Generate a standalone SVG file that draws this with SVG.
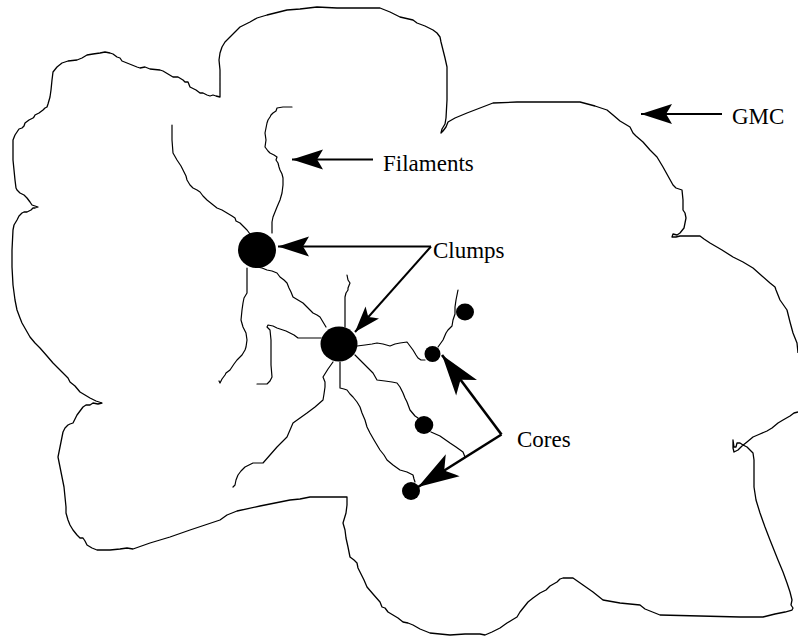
<svg xmlns="http://www.w3.org/2000/svg" width="798" height="638" viewBox="0 0 798 638">
<style>
.outline{fill:none;stroke:#000;stroke-width:1.3;stroke-linejoin:round}
.fil{fill:none;stroke:#000;stroke-width:1.2;stroke-linejoin:round;stroke-linecap:round}
.blob{fill:#000;stroke:none}
.arr{fill:none;stroke:#000;stroke-width:2}
.arrC{fill:none;stroke:#000;stroke-width:2.6}
.lbl{font-family:'Liberation Serif','Times New Roman',serif;font-size:23px;fill:#000}
</style>
<defs>
<marker id="headS" viewBox="-32 -11 33 22" refX="0" refY="0" markerWidth="33" markerHeight="22" orient="auto" markerUnits="userSpaceOnUse">
<path d="M0,0 L-31,-10 Q-27,-3 -25,0 Q-27,3 -31,10 Z" fill="#000"/>
</marker>
<marker id="headM" viewBox="-27 -10 28 20" refX="0" refY="0" markerWidth="28" markerHeight="20" orient="auto" markerUnits="userSpaceOnUse">
<path d="M0,0 L-26,-9 Q-22,-3 -20,0 Q-22,3 -26,9 Z" fill="#000"/>
</marker>
<marker id="headC" viewBox="-43 -15 44 30" refX="0" refY="0" markerWidth="44" markerHeight="30" orient="auto" markerUnits="userSpaceOnUse">
<path d="M0,0 L-41,-13 Q-34,-4 -31,0 Q-34,4 -41,13 Z" fill="#000"/>
</marker>
</defs>

<g id="gmc-outline">
<path class="outline" d="M798,353 L797,343 L793,333 L790,322 L787,310 L780,300 L776,290 L775,287 L770,283 L762,276 L753,268 L743,262 L733,257 L722,250 L710,243 L704,239 L700,236 L690,236 L680,236 L676,237 L672,237 L673,234 L677,235 L680,233 L684,228 L685,223 L686,218 L685,213 L683,210 L683,200 L682,190 L676,188 L673,185 L668,176 L663,167 L657,157 L650,150 L643,142 L636,136 L633,133 L630,127 L620,121 L613,115 L607,110 L595,106 L580,102 L550,102 L517,102 L493,103 L480,108 L467,113 L455,118 L448,122 L446,127 L443,131 L441,133 L442,129 L445,124 L446,118 L447,100 L447,80 L447,67 L445,58 L443,50 L441,42 L440,37 L437,33 L433,30 L425,26 L417,23 L413,20 L400,17 L390,12 L380,8 L360,8 L337,8 L317,7 L300,9 L287,10 L275,13 L267,15 L257,18 L250,22 L240,27 L235,32 L230,37 L225,42 L222,47 L220,53 L219,60 L220,70 L220,80 L220,90 L220,97 L216,96 L213,95 L210,96 L207,95 L203,93 L200,93 L196,90 L190,87 L188,82 L185,82 L183,80 L178,77 L173,77 L168,74 L163,71 L160,70 L150,69 L145,67 L140,68 L137,67 L132,65 L127,63 L122,61 L120,58 L117,57 L113,54 L110,53 L105,52 L100,53 L93,54 L87,55 L82,58 L77,60 L68,61 L62,63 L57,67 L53,72 L52,80 L51,90 L50,97 L48,104 L47,107 L45,108 L43,110 L39,113 L35,115 L34,117 L33,118 L29,120 L25,123 L24,126 L22,128 L19,129 L17,132 L15,135 L13,140 L13,150 L13,160 L14,170 L15,180 L16,188 L17,190 L20,193 L24,195 L27,198 L30,202 L32,205 L35,206 L38,207 L35,208 L33,208 L31,210 L27,212 L24,212 L22,213 L19,216 L17,220 L14,225 L13,230 L12,250 L12,267 L13,285 L15,300 L17,310 L20,318 L22,323 L26,330 L30,337 L35,343 L40,348 L47,356 L53,363 L58,368 L62,372 L68,378 L70,382 L75,386 L80,392 L85,395 L90,398 L96,401 L102,403 L98,404 L93,403 L90,405 L86,405 L83,407 L80,411 L77,415 L75,419 L73,423 L70,424 L68,425 L65,428 L63,432 L62,437 L61,442 L60,447 L59,452 L58,457 L60,467 L61,472 L62,477 L64,487 L65,497 L66,507 L66,513 L68,520 L70,525 L73,530 L77,535 L80,538 L83,538 L85,541 L87,545 L92,548 L97,550 L110,550 L120,549 L127,548 L133,549 L150,543 L170,537 L190,530 L205,525 L220,520 L227,515 L237,511 L260,506 L275,503 L290,500 L300,499 L310,497 L330,497 L347,497 L347,505 L346,513 L343,523 L345,530 L346,538 L348,547 L350,557 L354,560 L357,563 L358,568 L360,572 L364,580 L367,587 L373,594 L380,602 L382,607 L385,608 L388,612 L393,615 L398,618 L403,622 L408,623 L413,625 L420,629 L430,633 L440,634 L450,635 L465,634 L480,634 L485,635 L492,632 L500,628 L507,623 L512,620 L517,617 L520,612 L524,607 L528,602 L533,598 L540,593 L546,590 L550,586 L557,582 L560,579 L563,578 L568,578 L573,578 L583,585 L593,592 L603,600 L620,603 L640,605 L645,609 L650,611 L660,615 L700,616 L740,617 L763,617 L775,614 L785,612 L792,610 L793,608 L791,605 L792,600 L790,592 L787,583 L783,572 L778,560 L774,550 L770,540 L765,527 L760,513 L756,500 L754,487 L754,470 L754,460 L753,453 L750,450 L747,447 L743,445 L740,443 L737,443 L736,447 L734,447 L733,440 L733,448 L734,452 L738,450 L742,446 L747,442 L753,437 L760,434 L767,431 L772,428 L778,423 L783,420 L790,416 L794,413 L798,412"/>
</g>

<g id="filaments">
<path class="fil" d="M172,125 L172,140 L173,153 L177,160 L181,166 L183,170 L186,176 L187,180 L190,185 L193,188 L197,190 L200,192 L203,196 L207,200 L212,204 L217,208 L222,210 L227,213 L232,216 L235,218 L236,221 L240,223 L244,227 L247,230 L250,234"/>
<path class="fil" d="M292,107 L283,107 L277,108 L276,111 L273,113 L271,115 L270,117 L268,120 L267,123 L266,128 L265,133 L266,140 L265,147 L268,151 L270,153 L274,155 L277,157 L276,160 L278,163 L279,167 L280,170 L282,174 L283,178 L283,185 L282,193 L280,200 L277,207 L275,212 L273,217 L272,222 L272,227 L272,233"/>
<path class="fil" d="M247,268 L247,280 L247,293 L244,298 L243,303 L242,310 L241,320 L243,327 L246,333 L247,340 L246,347 L245,350 L242,355 L237,360 L234,364 L230,370 L226,373 L225,375 L222,379 L220,383 L219,381"/>
<path class="fil" d="M257,267 L262,268 L267,270 L272,271 L277,273 L280,277 L284,280 L287,283 L289,288 L291,292 L293,297 L298,300 L303,303 L307,307 L310,310 L313,313 L317,315 L320,317 L323,322 L326,327"/>
<path class="fil" d="M321,338 L310,338 L298,338 L294,335 L290,333 L286,331 L283,330 L280,329 L277,328 L273,326 L268,325 L267,327 L270,330 L271,340 L271,353 L271,365 L272,377 L270,381 L267,384 L262,384 L257,384"/>
<path class="fil" d="M347,275 L348,280 L350,283 L348,288 L348,290 L346,293 L345,297 L345,310 L345,327"/>
<path class="fil" d="M357,346 L365,345 L372,344 L377,343 L383,344 L390,346 L395,344 L400,343 L407,342 L410,346 L413,350 L416,355 L418,358 L421,360 L425,360"/>
<path class="fil" d="M438,347 L443,340 L446,333 L448,330 L452,326 L453,320 L455,314 L455,307 L456,300 L457,295 L458,290"/>
<path class="fil" d="M355,355 L360,360 L363,363 L368,368 L373,373 L377,380 L385,381 L392,382 L397,383 L400,387 L403,393 L405,398 L407,402 L410,410 L415,416 L418,418"/>
<path class="fil" d="M431,432 L440,436 L450,443 L456,447 L463,452 L465,457"/>
<path class="fil" d="M340,362 L340,375 L340,388 L344,389 L347,390 L350,394 L353,397 L357,402 L360,407 L362,413 L365,420 L367,427 L370,433 L374,440 L380,450 L384,455 L387,460 L393,465 L400,470 L407,472 L413,475 L414,479 L415,482"/>
<path class="fil" d="M333,362 L328,369 L323,377 L325,382 L325,387 L324,394 L323,400 L315,407 L307,413 L300,418 L293,423 L290,430 L287,437 L282,442 L277,447 L270,455 L263,463 L258,463 L253,463 L249,465 L245,467 L241,471 L238,475 L236,480 L235,485 L233,487"/>
</g>

<g id="clump1"><ellipse class="blob" cx="257" cy="250" rx="19" ry="18"/></g>
<g id="clump2"><ellipse class="blob" cx="339" cy="344" rx="18.5" ry="17.5"/></g>
<g id="core1"><ellipse class="blob" cx="465" cy="312" rx="9" ry="8.5"/></g>
<g id="core2"><ellipse class="blob" cx="432.5" cy="354" rx="8" ry="8"/></g>
<g id="core3"><ellipse class="blob" cx="424" cy="425" rx="9.3" ry="9"/></g>
<g id="core4"><ellipse class="blob" cx="411" cy="491" rx="9" ry="9"/></g>

<g id="connectors">
<line class="arr" x1="722" y1="114" x2="641" y2="114" marker-end="url(#headS)"/>
<line class="arr" x1="373" y1="159.5" x2="292" y2="159.5" marker-end="url(#headS)"/>
<line class="arr" x1="431" y1="246.5" x2="278" y2="246.5" marker-end="url(#headS)"/>
<line class="arr" x1="431" y1="246.5" x2="355" y2="332" marker-end="url(#headM)"/>
<line class="arrC" x1="501.5" y1="434.5" x2="442" y2="355" marker-end="url(#headC)"/>
<line class="arrC" x1="501.5" y1="434.5" x2="418" y2="487" marker-end="url(#headC)"/>
</g>

<g id="labels" font-family="Liberation Serif, Times New Roman, serif" font-size="23">
<text class="lbl" x="732" y="124">GMC</text>
<text class="lbl" x="383" y="171">Filaments</text>
<text class="lbl" x="433" y="258">Clumps</text>
<text class="lbl" x="517" y="447">Cores</text>
</g>
</svg>
